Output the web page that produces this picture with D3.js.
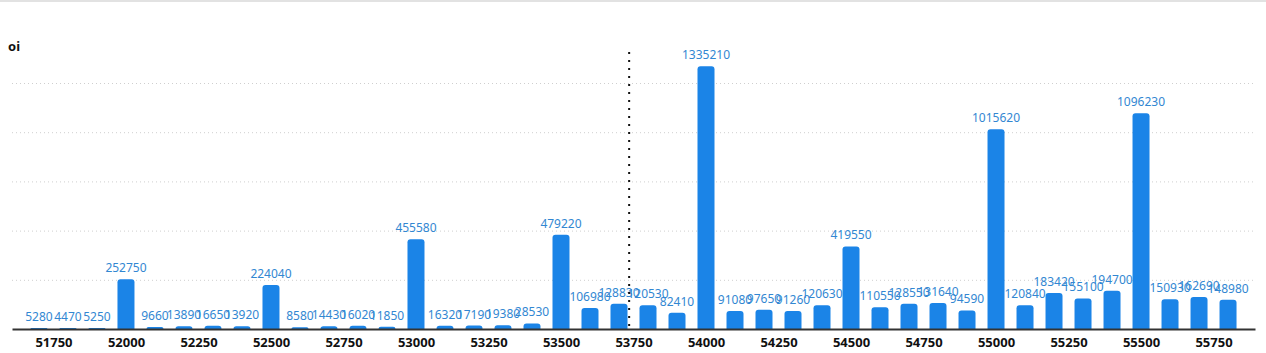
<!DOCTYPE html>
<html>
<head>
<meta charset="utf-8">
<script src="https://cdn.jsdelivr.net/npm/d3@7"></script>
<style>
  body { margin: 0; background: #fff; }
  #chart { width: 1266px; height: 353px; }
</style>
</head>
<body>
<div id="chart"></div>
<script>
// strikes and open interest
const strikes = d3.range(51700, 55801, 100);
const oi = [
  5280, 4470, 5250, 252750, 9660, 13890, 16650, 13920, 224040, 8580,
  14430, 16020, 11850, 455580, 16320, 17190, 19380, 28530, 479220, 106980,
  128830, 120530, 82410, 1335210, 91080, 97650, 91260, 120630, 419550, 110550,
  128550, 131640, 94590, 1015620, 120840, 183420, 155100, 194700, 1096230, 150930,
  162690, 148980
];
const xTicks = d3.range(51750, 55751, 250);
const yGrid = [250000, 500000, 750000, 1000000, 1250000];
const spot = 53735;

const width = 1266, height = 353;
const baseY = 329;

const data = strikes.map((s, i) => ({ strike: s, oi: oi[i] }));

const svg = d3.select("#chart")
  .append("svg")
  .attr("width", width)
  .attr("height", height)
  .style("font-family", "'Noto Sans', sans-serif");

// top border
svg.append("line")
  .attr("x1", 0).attr("x2", width)
  .attr("y1", 1).attr("y2", 1)
  .attr("stroke", "#e2e2e2")
  .attr("stroke-width", 2);

const x = d3.scaleLinear()
  .domain([51607, 55893])
  .range([12, 1255]);

const y = d3.scaleLinear()
  .domain([0, 1500000])
  .range([baseY, baseY - 295.2]);

// grid lines
const grid = svg.append("g")
  .attr("transform", `translate(${x.range()[0]},0)`)
  .call(d3.axisLeft(y).tickValues(yGrid).tickSize(-(x.range()[1] - x.range()[0])).tickFormat(""));
grid.select(".domain").remove();
grid.selectAll(".tick line")
  .attr("stroke", "#cfcfcf")
  .attr("stroke-dasharray", "1,3");

// title
svg.append("text")
  .attr("x", 8)
  .attr("y", 51)
  .style("font-size", "13px")
  .style("font-weight", "bold")
  .attr("fill", "#111")
  .text("oi");

// bars with rounded tops
const barW = 17, r = 3;
function barPath(d) {
  const x0 = x(d.strike) - barW / 2, x1 = x0 + barW;
  const yt = y(d.oi);
  const h = baseY - yt;
  const rr = Math.min(r, h);
  return `M${x0},${baseY}V${yt + rr}Q${x0},${yt} ${x0 + rr},${yt}H${x1 - rr}Q${x1},${yt} ${x1},${yt + rr}V${baseY}Z`;
}

svg.append("g")
  .selectAll("path")
  .data(data)
  .enter()
  .append("path")
  .attr("d", barPath)
  .attr("fill", "#1b84e7");

// value labels
svg.append("g")
  .selectAll("text")
  .data(data)
  .enter()
  .append("text")
  .attr("x", d => x(d.strike))
  .attr("y", d => y(d.oi) - 7)
  .attr("text-anchor", "middle")
  .style("font-size", "12px")
  .attr("fill", "#3287d2")
  .text(d => d.oi);

// x axis
const xAxis = svg.append("g")
  .attr("transform", `translate(0,${baseY})`)
  .call(d3.axisBottom(x).tickValues(xTicks).tickSize(0).tickSizeOuter(0).tickPadding(9).tickFormat(d3.format("d")));
xAxis.select(".domain")
  .attr("stroke", "#333")
  .attr("stroke-width", 2);
xAxis.selectAll("text")
  .style("font-size", "13px")
  .style("font-weight", "bold")
  .style("font-family", "'Noto Sans', sans-serif")
  .attr("fill", "#111");

// spot line
svg.append("line")
  .attr("x1", x(spot)).attr("x2", x(spot))
  .attr("y1", 52).attr("y2", baseY)
  .attr("stroke", "#111")
  .attr("stroke-width", 2)
  .attr("stroke-dasharray", "2,6");
</script>
</body>
</html>
